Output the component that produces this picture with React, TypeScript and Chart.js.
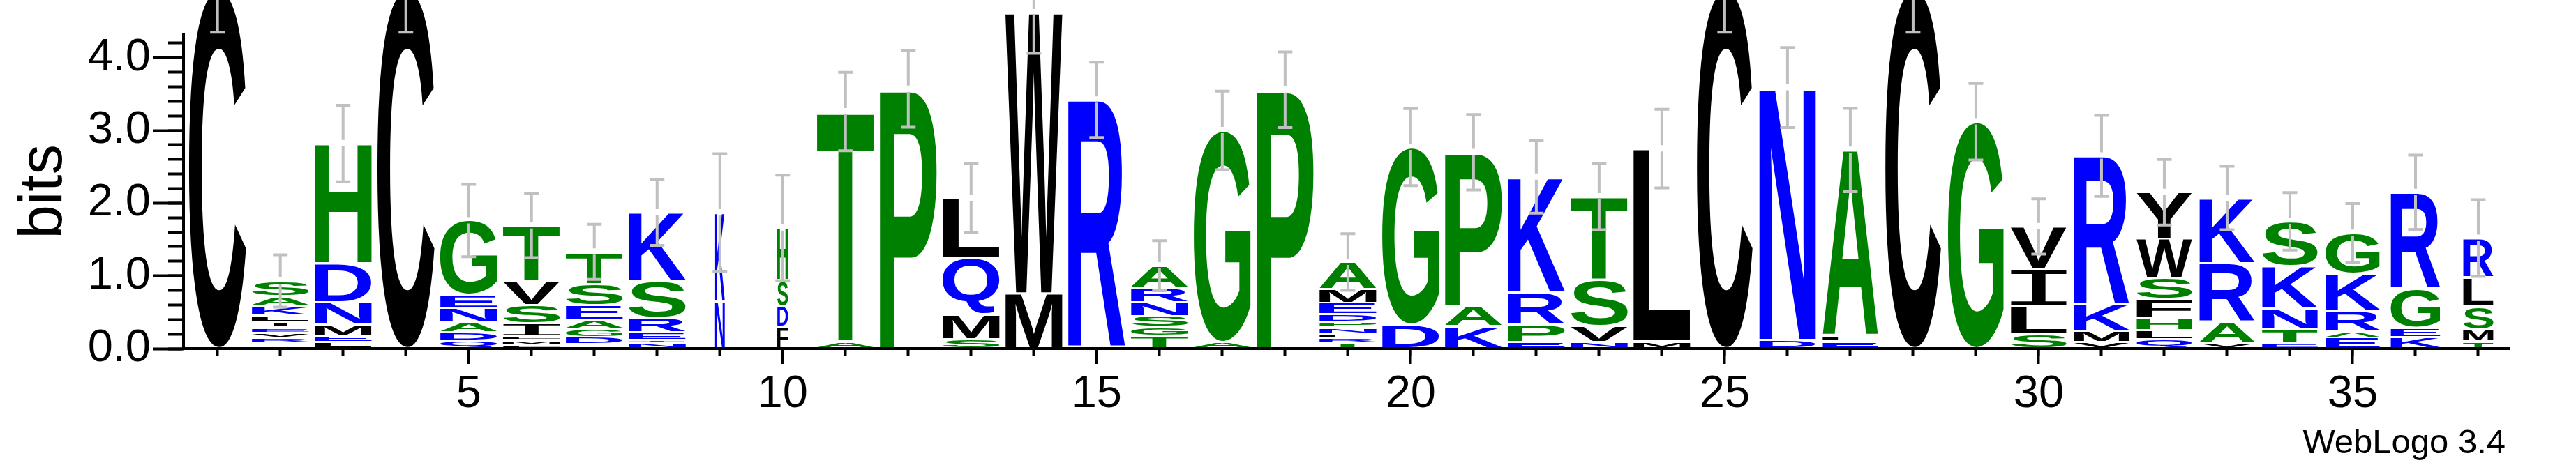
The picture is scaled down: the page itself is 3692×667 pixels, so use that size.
import React, { useEffect, useRef } from "react";
import { Chart, registerables } from "chart.js";

Chart.register(...registerables);

// ---------- data ----------
const positions = [1, 2, 3, 4, 5, 6, 7, 8, 9, 10, 11, 12, 13, 14, 15, 16, 17, 18, 19, 20, 21, 22, 23, 24, 25, 26, 27, 28, 29, 30, 31, 32, 33, 34, 35, 36, 37];

// letters of each column, from the bottom of the stack to the top
const stackLetters = [
  "C", "WYFHRVEILKAS", "LEMNDH", "C", "QDANEG", "FMALISVT", "YWFDGAEST", "NTERSK", "NK", "FDSH",
  "AT", "P", "SMQL", "MW", "R", "TGSNRA", "AG", "P", "TRLNPDEMA", "DG",
  "KAP", "EPRK", "NVST", "ML", "C", "DN", "ELA", "C", "G", "SLIV",
  "VMKR", "QLHFSWY", "VARK", "ETNKS", "EARKG", "KEGR", "TMSLR",
];

// height (bits) of each letter, same order as stackLetters
const stackHeights = [
  [4.93],
  [0.02, 0.02, 0.02, 0.02, 0.07, 0.07, 0.07, 0.08, 0.09, 0.13, 0.13, 0.21],
  [0.09, 0.09, 0.15, 0.31, 0.53, 1.65],
  [4.93],
  [0.11, 0.11, 0.135, 0.195, 0.19, 1.02],
  [0.05, 0.05, 0.02, 0.05, 0.18, 0.25, 0.33, 0.76],
  [0.02, 0.02, 0.02, 0.10, 0.11, 0.13, 0.20, 0.29, 0.44],
  [0.08, 0.04, 0.10, 0.20, 0.51, 0.94],
  [0.655, 1.215],
  [0.30, 0.28, 0.36, 0.72],
  [0.10, 3.16],
  [3.57],
  [0.13, 0.34, 0.78, 0.82],
  [0.76, 3.86],
  [3.42],
  [0.18, 0.12, 0.15, 0.19, 0.20, 0.30],
  [0.09, 2.91],
  [3.56],
  [0.08, 0.06, 0.07, 0.08, 0.08, 0.10, 0.16, 0.19, 0.37],
  [0.33, 2.44],
  [0.31, 0.27, 2.12],
  [0.09, 0.24, 0.45, 1.58],
  [0.09, 0.22, 0.64, 1.14],
  [0.10, 2.65],
  [4.93],
  [0.12, 3.47],
  [0.10, 0.07, 2.56],
  [4.93],
  [3.12],
  [0.20, 0.38, 0.52, 0.58],
  [0.09, 0.15, 0.36, 2.05],
  [0.13, 0.12, 0.18, 0.25, 0.29, 0.54, 0.64],
  [0.08, 0.28, 0.81, 0.90],
  [0.07, 0.19, 0.29, 0.59, 0.61],
  [0.15, 0.09, 0.28, 0.51, 0.56],
  [0.16, 0.13, 0.53, 1.33],
  [0.10, 0.16, 0.32, 0.40, 0.54],
];

// half length of the error bar at the top of each stack (bits)
const errorHalf = [
  0.58, 0.36, 0.527, 0.58, 0.497, 0.44, 0.378, 0.45, 0.81, 0.726,
  0.54, 0.526, 0.47, 0.56, 0.517, 0.344, 0.54, 0.52, 0.39, 0.53,
  0.52, 0.497, 0.456, 0.54, 0.58, 0.55, 0.573, 0.58, 0.526, 0.38,
  0.558, 0.45, 0.436, 0.396, 0.404, 0.51, 0.527,
];

// relative column width (fraction of sequences without a gap)
const columnWidth = [
  1, 1, 1, 1, 1, 1, 1, 1, 0.17, 0.19,
  1, 1, 1, 1, 1, 1, 1, 1, 1, 1,
  1, 1, 1, 1, 0.975, 0.99, 0.975, 0.975, 0.98, 0.98,
  0.97, 0.97, 0.97, 0.975, 0.95, 0.87, 0.53,
];

const xMajorTicks = [5, 10, 15, 20, 25, 30, 35];
const yMajorTicks = [0, 1, 2, 3, 4];
const yMinorTicks = [0, 0.2, 0.4, 0.6, 0.8, 1, 1.2, 1.4, 1.6, 1.8, 2, 2.2, 2.4, 2.6, 2.8, 3, 3.2, 3.4, 3.6, 3.8, 4, 4.2];
const yAxisTitle = "bits";
const footnote = "WebLogo 3.4";

// ---------- styles ----------
const GREEN = "rgb(0,128,0)";
const BLUE = "rgb(0,0,255)";
const BLACK = "rgb(0,0,0)";
const letterColors: Record<string, string> = {
  R: BLUE, K: BLUE, D: BLUE, E: BLUE, N: BLUE, Q: BLUE,
  S: GREEN, G: GREEN, H: GREEN, T: GREEN, A: GREEN, P: GREEN,
  Y: BLACK, V: BLACK, M: BLACK, C: BLACK, L: BLACK, F: BLACK, I: BLACK, W: BLACK,
};
const FONT = '"Liberation Sans", Arial, Helvetica, sans-serif';
const LETTER_FONT = 'bold 200px ' + FONT;
const LETTER_FONT_I = '200px "DejaVu Sans Mono", monospace';
const INSET = 1.5;
const ERR_COLOR = "rgb(192,192,192)";

function drawGlyph(ctx: CanvasRenderingContext2D, ch: string, x0: number, y0: number, w: number, h: number, color: string) {
  ctx.save();
  ctx.font = ch === "I" ? LETTER_FONT_I : LETTER_FONT;
  ctx.textAlign = "left";
  ctx.textBaseline = "alphabetic";
  const m = ctx.measureText(ch);
  const inkLeft = -m.actualBoundingBoxLeft;
  const inkRight = m.actualBoundingBoxRight;
  const inkTop = -m.actualBoundingBoxAscent;
  const inkBottom = m.actualBoundingBoxDescent;
  const sx = w / (inkRight - inkLeft);
  const sy = h / (inkBottom - inkTop);
  ctx.translate(x0 - inkLeft * sx, y0 - inkTop * sy);
  ctx.scale(sx, sy);
  ctx.fillStyle = color;
  ctx.fillText(ch, 0, 0);
  ctx.restore();
}

const logoPlugin = {
  id: "logoGlyphs",
  afterDatasetsDraw(chart: any) {
    const ctx: CanvasRenderingContext2D = chart.ctx;
    const xs = chart.scales.x;
    const ys = chart.scales.y;
    chart.data.datasets.forEach((_ds: any, k: number) => {
      const meta = chart.getDatasetMeta(k);
      meta.data.forEach((el: any, i: number) => {
        const ch = stackLetters[i][k];
        if (!ch) return;
        const p = el.getProps(["x", "y", "base", "width"], true);
        const top = Math.min(p.y, p.base);
        const bottom = Math.max(p.y, p.base);
        const h = bottom - top - 2 * INSET;
        if (h < 0.6) return;
        const w = p.width * columnWidth[i];
        drawGlyph(ctx, ch, p.x - w / 2, top + INSET, w, h, letterColors[ch] || BLACK);
      });
    });
    // error bars
    ctx.save();
    ctx.strokeStyle = ERR_COLOR;
    ctx.lineWidth = 4;
    ctx.lineCap = "butt";
    positions.forEach((pos, i) => {
      const total = stackHeights[i].reduce((a, b) => a + b, 0);
      const cx = xs.getPixelForValue(pos);
      const yTop = ys.getPixelForValue(total);
      const yHi = ys.getPixelForValue(total + errorHalf[i]);
      const yLo = ys.getPixelForValue(total - errorHalf[i]);
      ctx.beginPath();
      ctx.moveTo(cx, yHi);
      ctx.lineTo(cx, yTop - 5);
      ctx.moveTo(cx, yTop + 4);
      ctx.lineTo(cx, yLo);
      ctx.moveTo(cx - 10.5, yHi);
      ctx.lineTo(cx + 10.5, yHi);
      ctx.moveTo(cx - 10.5, yLo);
      ctx.lineTo(cx + 10.5, yLo);
      ctx.stroke();
    });
    ctx.restore();
    // footnote
    ctx.save();
    ctx.font = "49px " + FONT;
    ctx.fillStyle = "#000";
    ctx.textAlign = "right";
    ctx.textBaseline = "alphabetic";
    ctx.fillText(footnote, 3591, 650);
    ctx.restore();
  },
};

export default function App() {
  const canvasRef = useRef<HTMLCanvasElement | null>(null);

  useEffect(() => {
    const canvas = canvasRef.current;
    if (!canvas) return;
    const layers = Math.max(...stackLetters.map((s) => s.length));
    const datasets = [];
    for (let k = 0; k < layers; k++) {
      datasets.push({
        label: "layer " + (k + 1),
        data: positions.map((p, i) => ({ x: p, y: stackHeights[i][k] ?? 0 })),
        backgroundColor: "rgba(0,0,0,0)",
        borderWidth: 0,
        barPercentage: 0.908,
        categoryPercentage: 1,
        xAxisID: "x",
        yAxisID: "y",
      });
    }
    const tickFont = { family: FONT, size: 65 };
    const chart = new Chart(canvas, {
      type: "bar",
      data: { datasets },
      plugins: [logoPlugin],
      options: {
        animation: false,
        responsive: false,
        devicePixelRatio: 1,
        events: [],
        layout: { padding: { left: 0, right: 95, top: 49.4, bottom: 0 } },
        plugins: { legend: { display: false }, tooltip: { enabled: false }, title: { display: false } },
        scales: {
          x: {
            type: "linear",
            axis: "x",
            position: "bottom",
            weight: 1,
            min: 0.459,
            max: 37.5,
            stacked: true,
            offset: false,
            grid: { offset: false, drawOnChartArea: false, drawTicks: true, tickLength: 22, tickWidth: 4, tickColor: "#000" },
            border: { display: true, width: 4, color: "#000" },
            ticks: { color: "#000", font: tickFont, padding: 5, autoSkip: false, maxRotation: 0, callback: (v: any) => String(v) },
            afterBuildTicks: (s: any) => { s.ticks = xMajorTicks.map((v) => ({ value: v })); },
            afterFit: (s: any) => { s.height = 167; },
          },
          xMinor: {
            type: "linear",
            axis: "x",
            position: "bottom",
            weight: 0,
            min: 0.459,
            max: 37.5,
            offset: false,
            grid: { offset: false, drawOnChartArea: false, drawTicks: true, tickLength: 10, tickWidth: 4, tickColor: "#000" },
            border: { display: false },
            ticks: { display: false },
            afterBuildTicks: (s: any) => { s.ticks = positions.map((v) => ({ value: v })); },
            afterFit: (s: any) => { s.height = 0; },
          },
          y: {
            type: "linear",
            axis: "y",
            position: "left",
            weight: 1,
            min: 0,
            max: 4.32,
            stacked: true,
            grid: { drawOnChartArea: false, drawTicks: true, tickLength: 43, tickWidth: 4, tickColor: "#000" },
            border: { display: true, width: 4, color: "#000" },
            ticks: { color: "#000", font: tickFont, padding: 4, callback: (v: any) => Number(v).toFixed(1) },
            title: { display: true, text: yAxisTitle, color: "#000", font: { family: FONT, size: 87 }, padding: { top: 12, bottom: 0 } },
            afterBuildTicks: (s: any) => { s.ticks = yMajorTicks.map((v) => ({ value: v })); },
            afterFit: (s: any) => { s.width = 263; },
          },
          yMinor: {
            type: "linear",
            axis: "y",
            position: "left",
            weight: 0,
            min: 0,
            max: 4.32,
            grid: { drawOnChartArea: false, drawTicks: true, tickLength: 22, tickWidth: 4, tickColor: "#000" },
            border: { display: false },
            ticks: { display: false },
            afterBuildTicks: (s: any) => { s.ticks = yMinorTicks.map((v) => ({ value: v })); },
            afterFit: (s: any) => { s.width = 0; },
          },
        },
      } as any,
    });
    return () => chart.destroy();
  }, []);

  return (
    <div style={{ position: "absolute", left: 0, top: 0, width: "3692px", height: "667px", background: "#fff" }}>
      <canvas ref={canvasRef} width={3692} height={667} style={{ display: "block", width: "3692px", height: "667px" }} />
    </div>
  );
}
